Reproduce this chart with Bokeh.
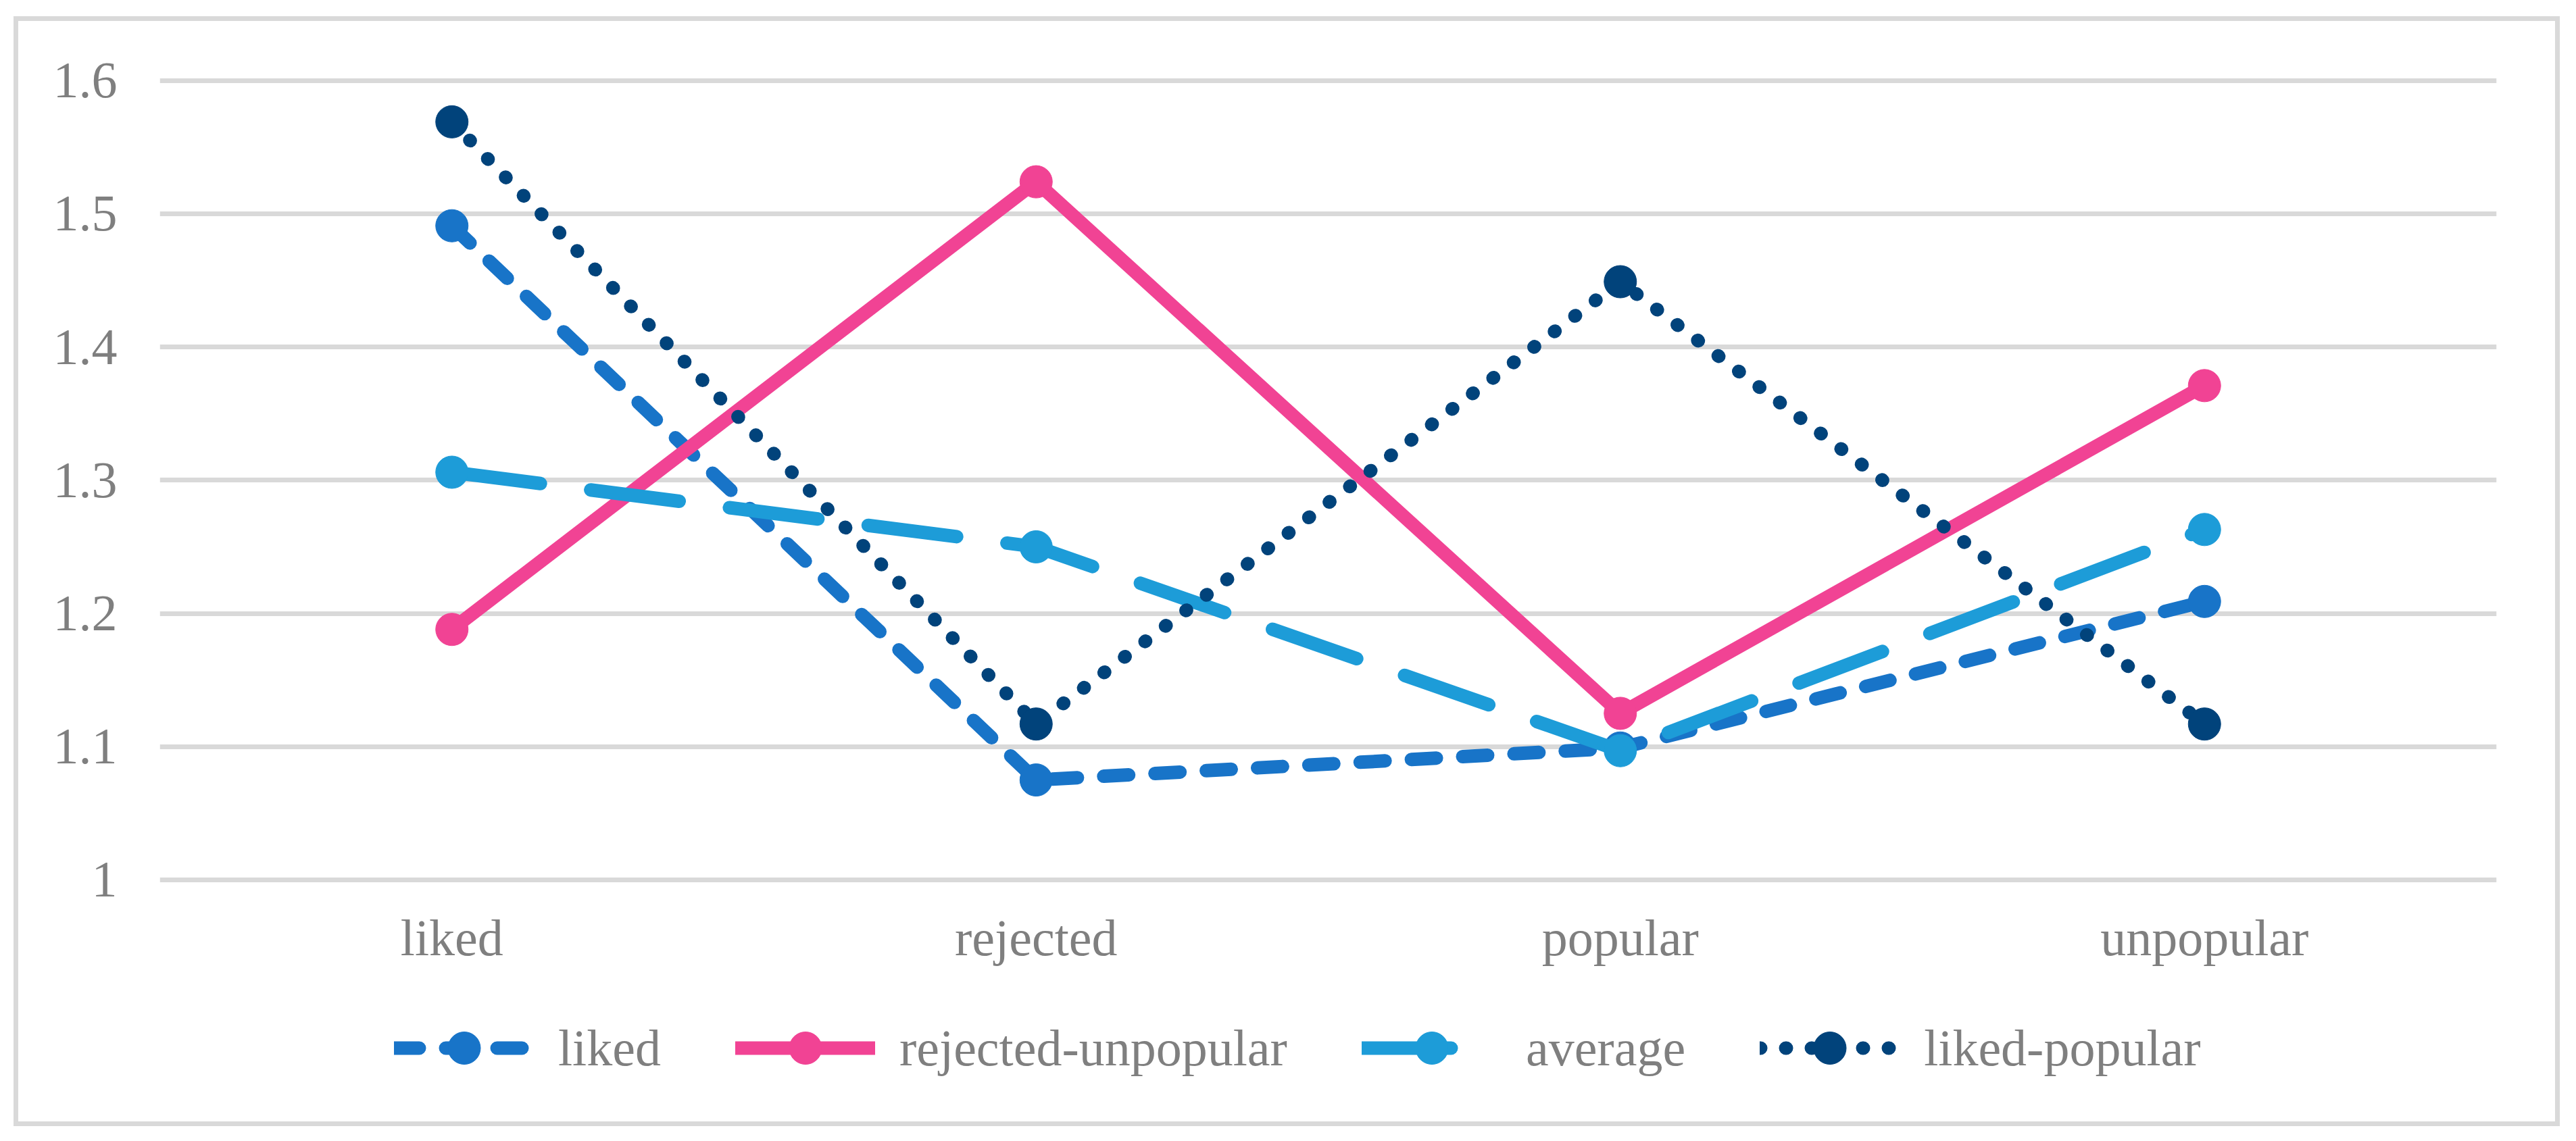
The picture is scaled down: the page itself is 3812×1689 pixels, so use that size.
from bokeh.plotting import figure
from bokeh.models import (FactorRange, Range1d, FixedTicker, Legend, LegendItem)
from bokeh.embed import file_html
from bokeh.resources import INLINE

# ---- data ----
categories = ["liked", "rejected", "popular", "unpopular"]
liked = [1.491, 1.075, 1.099, 1.209]
rejected_unpopular = [1.188, 1.524, 1.125, 1.371]
average = [1.306, 1.250, 1.097, 1.263]
liked_popular = [1.569, 1.117, 1.449, 1.117]
series_names = ["liked", "rejected-unpopular", "average", "liked-popular"]
y_ticks = [1.0, 1.1, 1.2, 1.3, 1.4, 1.5, 1.6]
y_tick_labels = ["1", "1.1", "1.2", "1.3", "1.4", "1.5", "1.6"]

# ---- styles ----
colors = ["#1874c8", "#f14394", "#1d9cd8", "#01437b"]
dashes = ["37 39", "solid", "132 75", "1 37"]
FONT = "Liberation Serif"
GRAY = "#7f7f7f"

W, H = 3754, 1629
# the canvas is measured with the 7px css border included (W+14, H+14)
p = figure(width=W, height=H, x_range=FactorRange(factors=categories),
           y_range=Range1d(0.8286, 1.61), output_backend="svg",
           toolbar_location=None, min_border_left=209, min_border_right=101,
           min_border_top=68, min_border_bottom=34)
p.styles = {"border": "7px solid #d9d9d9", "box-sizing": "content-box",
            "margin-left": "20px", "margin-top": "24px"}
p.outline_line_color = None
p.background_fill_color = "white"
p.border_fill_color = "white"

p.xgrid.grid_line_color = None
p.ygrid.grid_line_color = "#d9d9d9"
p.ygrid.grid_line_width = 7
p.yaxis.ticker = FixedTicker(ticks=y_ticks)
p.yaxis.major_label_overrides = {t: l for t, l in zip(y_ticks, y_tick_labels)}
p.xaxis.fixed_location = y_ticks[0]

for ax in (p.xaxis[0], p.yaxis[0]):
    ax.axis_line_color = None
    ax.major_tick_line_color = None
    ax.minor_tick_line_color = None
    ax.major_tick_in = 0
    ax.major_tick_out = 0
    ax.major_label_text_font = FONT
    ax.major_label_text_font_size = "76px"
    ax.major_label_text_color = GRAY
p.yaxis.major_label_standoff = 63
p.xaxis.major_label_standoff = 44

items = []
for name, vals, col, dash in zip(series_names,
                                 [liked, rejected_unpopular, average, liked_popular],
                                 colors, dashes):
    lr = p.line(x=categories, y=vals, line_color=col, line_width=20,
                line_dash=dash, line_cap="round", line_join="round")
    sr = p.scatter(x=categories, y=vals, size=48, fill_color=col,
                   line_color=col, line_width=1)
    items.append(LegendItem(label=name, renderers=[lr, sr]))

legend = Legend(items=items, orientation="horizontal", location=(347, 29),
                glyph_width=207, glyph_height=120, label_standoff=36,
                spacing=110, padding=0, margin=0,
                label_text_font=FONT, label_text_font_size="76px",
                label_text_color=GRAY, border_line_color=None,
                background_fill_alpha=0)
p.add_layout(legend, "center")

open("out.html", "w").write(file_html(p, INLINE))
